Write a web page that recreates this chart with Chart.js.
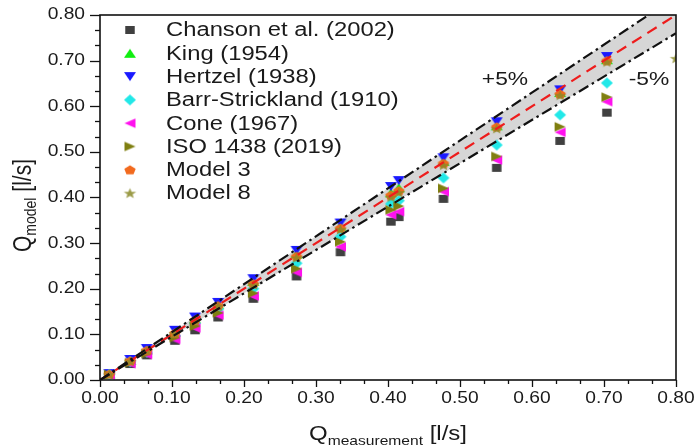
<!DOCTYPE html>
<html><head><meta charset="utf-8">
<script src="https://cdn.jsdelivr.net/npm/chart.js@4/dist/chart.umd.min.js"></script>
<style>html,body{margin:0;padding:0;background:#fff}#wrap{width:695px;height:448px}</style>
</head><body><div id="wrap"><canvas id="c" width="695" height="448"></canvas></div>
<script>
// ---- data ----
const xMeas   = [0.013, 0.042, 0.065, 0.104, 0.132, 0.164, 0.213, 0.273, 0.334, 0.404, 0.415, 0.477, 0.551, 0.639, 0.704];
const chanson = [0.011, 0.035, 0.054, 0.086, 0.109, 0.137, 0.178, 0.227, 0.280, 0.347, 0.357, 0.397, 0.465, 0.524, 0.586];
const king    = [0.013, 0.043, 0.066, 0.105, 0.134, 0.166, 0.216, 0.276, 0.337, 0.410, 0.421, 0.479, 0.557, 0.630, 0.702];
const hertzel = [0.014, 0.045, 0.069, 0.109, 0.138, 0.170, 0.222, 0.284, 0.344, 0.424, 0.437, 0.487, 0.566, 0.636, 0.709];
const barr    = [0.012, 0.040, 0.061, 0.097, 0.124, 0.155, 0.200, 0.256, 0.314, 0.386, 0.393, 0.443, 0.515, 0.581, 0.651];
const cone    = [0.011, 0.036, 0.056, 0.089, 0.114, 0.142, 0.184, 0.236, 0.292, 0.362, 0.369, 0.413, 0.482, 0.543, 0.610];
const iso     = [0.012, 0.038, 0.058, 0.093, 0.118, 0.147, 0.190, 0.244, 0.303, 0.373, 0.381, 0.420, 0.490, 0.555, 0.620];
const model3  = [0.013, 0.042, 0.065, 0.103, 0.131, 0.163, 0.211, 0.271, 0.333, 0.405, 0.415, 0.475, 0.555, 0.627, 0.700];
const model8X = [0.013, 0.042, 0.065, 0.104, 0.132, 0.164, 0.213, 0.273, 0.334, 0.404, 0.415, 0.477, 0.551, 0.639, 0.704, 0.800];
const model8  = [0.013, 0.041, 0.064, 0.102, 0.130, 0.162, 0.209, 0.268, 0.330, 0.401, 0.411, 0.471, 0.551, 0.624, 0.697, 0.705];
const lineX   = [0, 0.8];
const perfect = [0, 0.8];
const plus5   = [0, 0.84];
const minus5  = [0, 0.76];
const seriesNames = ['Chanson et al. (2002)','King (1954)','Hertzel (1938)','Barr-Strickland (1910)','Cone (1967)','ISO 1438 (2019)','Model 3','Model 8'];
const bandLabels = ['+5%','-5%'];
const axisMin = 0, axisMax = 0.8, axisStep = 0.1;

// ---- styling ----
const SX = 1.2; // reference is stretched horizontally
const FONT = '"Liberation Sans", Arial, sans-serif';

function makeMarker(shape, color, w, h, alpha) {
  const c = document.createElement('canvas');
  c.width = Math.ceil(w) + 2; c.height = Math.ceil(h) + 2;
  const g = c.getContext('2d');
  g.globalAlpha = alpha == null ? 1 : alpha;
  g.fillStyle = color;
  const cx = c.width / 2, cy = c.height / 2, hw = w / 2, hh = h / 2;
  g.beginPath();
  if (shape === 'square') { g.rect(cx - hw, cy - hh, w, h); }
  else if (shape === 'up') { g.moveTo(cx, cy - hh); g.lineTo(cx + hw, cy + hh); g.lineTo(cx - hw, cy + hh); }
  else if (shape === 'down') { g.moveTo(cx, cy + hh); g.lineTo(cx + hw, cy - hh); g.lineTo(cx - hw, cy - hh); }
  else if (shape === 'left') { g.moveTo(cx - hw, cy); g.lineTo(cx + hw, cy - hh); g.lineTo(cx + hw, cy + hh); }
  else if (shape === 'right') { g.moveTo(cx + hw, cy); g.lineTo(cx - hw, cy - hh); g.lineTo(cx - hw, cy + hh); }
  else if (shape === 'diamond') { g.moveTo(cx, cy - hh); g.lineTo(cx + hw, cy); g.lineTo(cx, cy + hh); g.lineTo(cx - hw, cy); }
  else if (shape === 'pentagon') {
    for (let i = 0; i < 5; i++) { const a = -Math.PI / 2 + i * 2 * Math.PI / 5; const px = cx + Math.cos(a) * hw, py = cy + 0.1*hh + Math.sin(a) * hh; i ? g.lineTo(px, py) : g.moveTo(px, py); }
  } else if (shape === 'star') {
    for (let i = 0; i < 10; i++) { const a = -Math.PI / 2 + i * Math.PI / 5; const r = i % 2 ? 0.42 : 1; const px = cx + Math.cos(a) * hw * r, py = cy + 0.1*hh + Math.sin(a) * hh * r; i ? g.lineTo(px, py) : g.moveTo(px, py); }
  }
  g.closePath(); g.fill();
  return c;
}
const markers = [
  makeMarker('square', '#404040', 9.5, 8),
  makeMarker('up', '#11ee11', 12, 9),
  makeMarker('down', '#1a1aff', 12, 9),
  makeMarker('diamond', '#22e8e8', 12, 11),
  makeMarker('left', '#ff11ee', 11, 9.5),
  makeMarker('right', '#7f7f10', 11, 9.5),
  makeMarker('pentagon', '#f26a1e', 12, 10),
  makeMarker('star', '#8a8a28', 13, 11, 0.85)
];
const seriesY = [chanson, king, hertzel, barr, cone, iso, model3, model8];

function pts(xs, ys) { return ys.map((y, i) => ({x: xs[i], y})); }

const datasets = [
  {type:'line', data: pts(lineX, plus5), showLine:true, borderColor:'#111', borderWidth:2.2, borderDash:[11,4,2.5,4], pointRadius:0, fill:'+1', backgroundColor:'rgb(214,214,214)', order:0},
  {type:'line', data: pts(lineX, minus5), showLine:true, borderColor:'#111', borderWidth:2.2, borderDash:[11,4,2.5,4], pointRadius:0, fill:false, order:0},
  {type:'line', data: pts(lineX, perfect), showLine:true, borderColor:'#ee1c1c', borderWidth:2.2, borderDash:[11,7], pointRadius:0, fill:false, order:0}
];
seriesY.forEach((ys, k) => {
  const xs = k === 7 ? model8X : xMeas;
  datasets.push({type:'scatter', label: seriesNames[k], data: pts(xs, ys), pointStyle: markers[k], pointRadius: 5, pointHoverRadius: 5, order: 8 - k,
    clip: k === 7 ? {left:false, top:false, right:0, bottom:false} : false});
});

function sText(ctx, str, x, y, size, align, baseline, sx) {
  ctx.save(); ctx.font = size + 'px ' + FONT; ctx.textAlign = align; ctx.textBaseline = baseline;
  ctx.translate(x, y); ctx.scale(sx, 1); ctx.fillText(str, 0, 0); ctx.restore();
}
function textW(ctx, str, size) { ctx.save(); ctx.font = size + 'px ' + FONT; const w = ctx.measureText(str).width; ctx.restore(); return w; }

const decor = {
  id: 'decor',
  afterDraw(chart) {
    const ctx = chart.ctx, a = chart.chartArea, xs = chart.scales.x, ys = chart.scales.y;
    ctx.save();
    ctx.fillStyle = '#1a1a1a'; ctx.strokeStyle = '#111';
    // frame
    ctx.lineWidth = 1.6;
    ctx.strokeRect(a.left, a.top, a.right - a.left, a.bottom - a.top);
    // ticks (major + minor)
    ctx.lineWidth = 1.3;
    const n = Math.round((axisMax - axisMin) / axisStep) * 3;
    for (let i = 0; i <= n; i++) {
      const v = axisMin + i * axisStep / 3;
      const major = i % 3 === 0;
      const px = Math.round(xs.getPixelForValue(v)) + 0.5;
      ctx.beginPath(); ctx.moveTo(px, a.bottom); ctx.lineTo(px, a.bottom + (major ? 7 : 4)); ctx.stroke();
      const py = Math.round(ys.getPixelForValue(v)) + 0.5;
      ctx.beginPath(); ctx.moveTo(a.left, py); ctx.lineTo(a.left - (major ? 10 : 5), py); ctx.stroke();
    }
    // tick labels
    xs.ticks.forEach((t, i) => {
      sText(ctx, t.value.toFixed(2), xs.getPixelForTick(i), a.bottom + 19, 16, 'center', 'middle', SX);
    });
    ys.ticks.forEach((t, i) => {
      sText(ctx, t.value.toFixed(2), a.left - 15, ys.getPixelForTick(i), 16, 'right', 'middle', SX);
    });
    // x title
    const mainS = 20, subS = 13;
    const wQ = textW(ctx, 'Q', mainS) * SX, wSub = textW(ctx, 'measurement', subS) * SX, wU = textW(ctx, ' [l/s]', mainS) * SX;
    let x0 = (a.left + a.right) / 2 - (wQ + wSub + wU) / 2;
    const by = 440;
    sText(ctx, 'Q', x0, by, mainS, 'left', 'alphabetic', SX);
    sText(ctx, 'measurement', x0 + wQ, by + 5, subS, 'left', 'alphabetic', SX);
    sText(ctx, ' [l/s]', x0 + wQ + wSub, by, mainS, 'left', 'alphabetic', SX);
    // y title (rotated)
    const yMain = 21, ySubS = 14;
    const yQ = textW(ctx, 'Q', yMain), ySub = textW(ctx, 'model', ySubS), yU = textW(ctx, ' [l/s]', yMain);
    ctx.save();
    ctx.translate(31, (a.top + a.bottom) / 2 + 8);
    ctx.scale(SX, 1);
    ctx.rotate(-Math.PI / 2);
    let s0 = -(yQ + ySub + yU) / 2;
    ctx.textAlign = 'left'; ctx.textBaseline = 'alphabetic';
    ctx.font = yMain + 'px ' + FONT; ctx.fillText('Q', s0, 0);
    ctx.font = ySubS + 'px ' + FONT; ctx.fillText('model', s0 + yQ, 4);
    ctx.font = yMain + 'px ' + FONT; ctx.fillText(' [l/s]', s0 + yQ + ySub, 0);
    ctx.restore();
    // band labels
    sText(ctx, bandLabels[0], xs.getPixelForValue(0.5625), ys.getPixelForValue(0.658), 19, 'center', 'middle', SX);
    sText(ctx, bandLabels[1], xs.getPixelForValue(0.7625), ys.getPixelForValue(0.658), 19, 'center', 'middle', SX);
    // legend
    seriesNames.forEach((name, k) => {
      const ly = a.top + 15 + k * 23.3;
      const m = markers[k];
      ctx.drawImage(m, 130 - m.width / 2, ly - m.height / 2);
      sText(ctx, name, 166, ly + 1, 19.5, 'left', 'middle', 1.22);
    });
    ctx.restore();
  }
};

new Chart(document.getElementById('c'), {
  type: 'scatter',
  data: { datasets },
  options: {
    responsive: false, animation: false, devicePixelRatio: 1,
    layout: { padding: { left: 0, right: 19, top: 15, bottom: 0 } },
    plugins: { legend: { display: false }, tooltip: { enabled: false }, filler: { drawTime: 'beforeDatasetsDraw' } },
    scales: {
      x: { type: 'linear', min: axisMin, max: axisMax, ticks: { display: false, stepSize: axisStep },
           grid: { display: false }, border: { display: false },
           afterFit(s) { s.height = 68; } },
      y: { type: 'linear', min: axisMin, max: axisMax, ticks: { display: false, stepSize: axisStep },
           grid: { display: false }, border: { display: false },
           afterFit(s) { s.width = 100; } }
    }
  },
  plugins: [decor]
});
</script></body></html>
